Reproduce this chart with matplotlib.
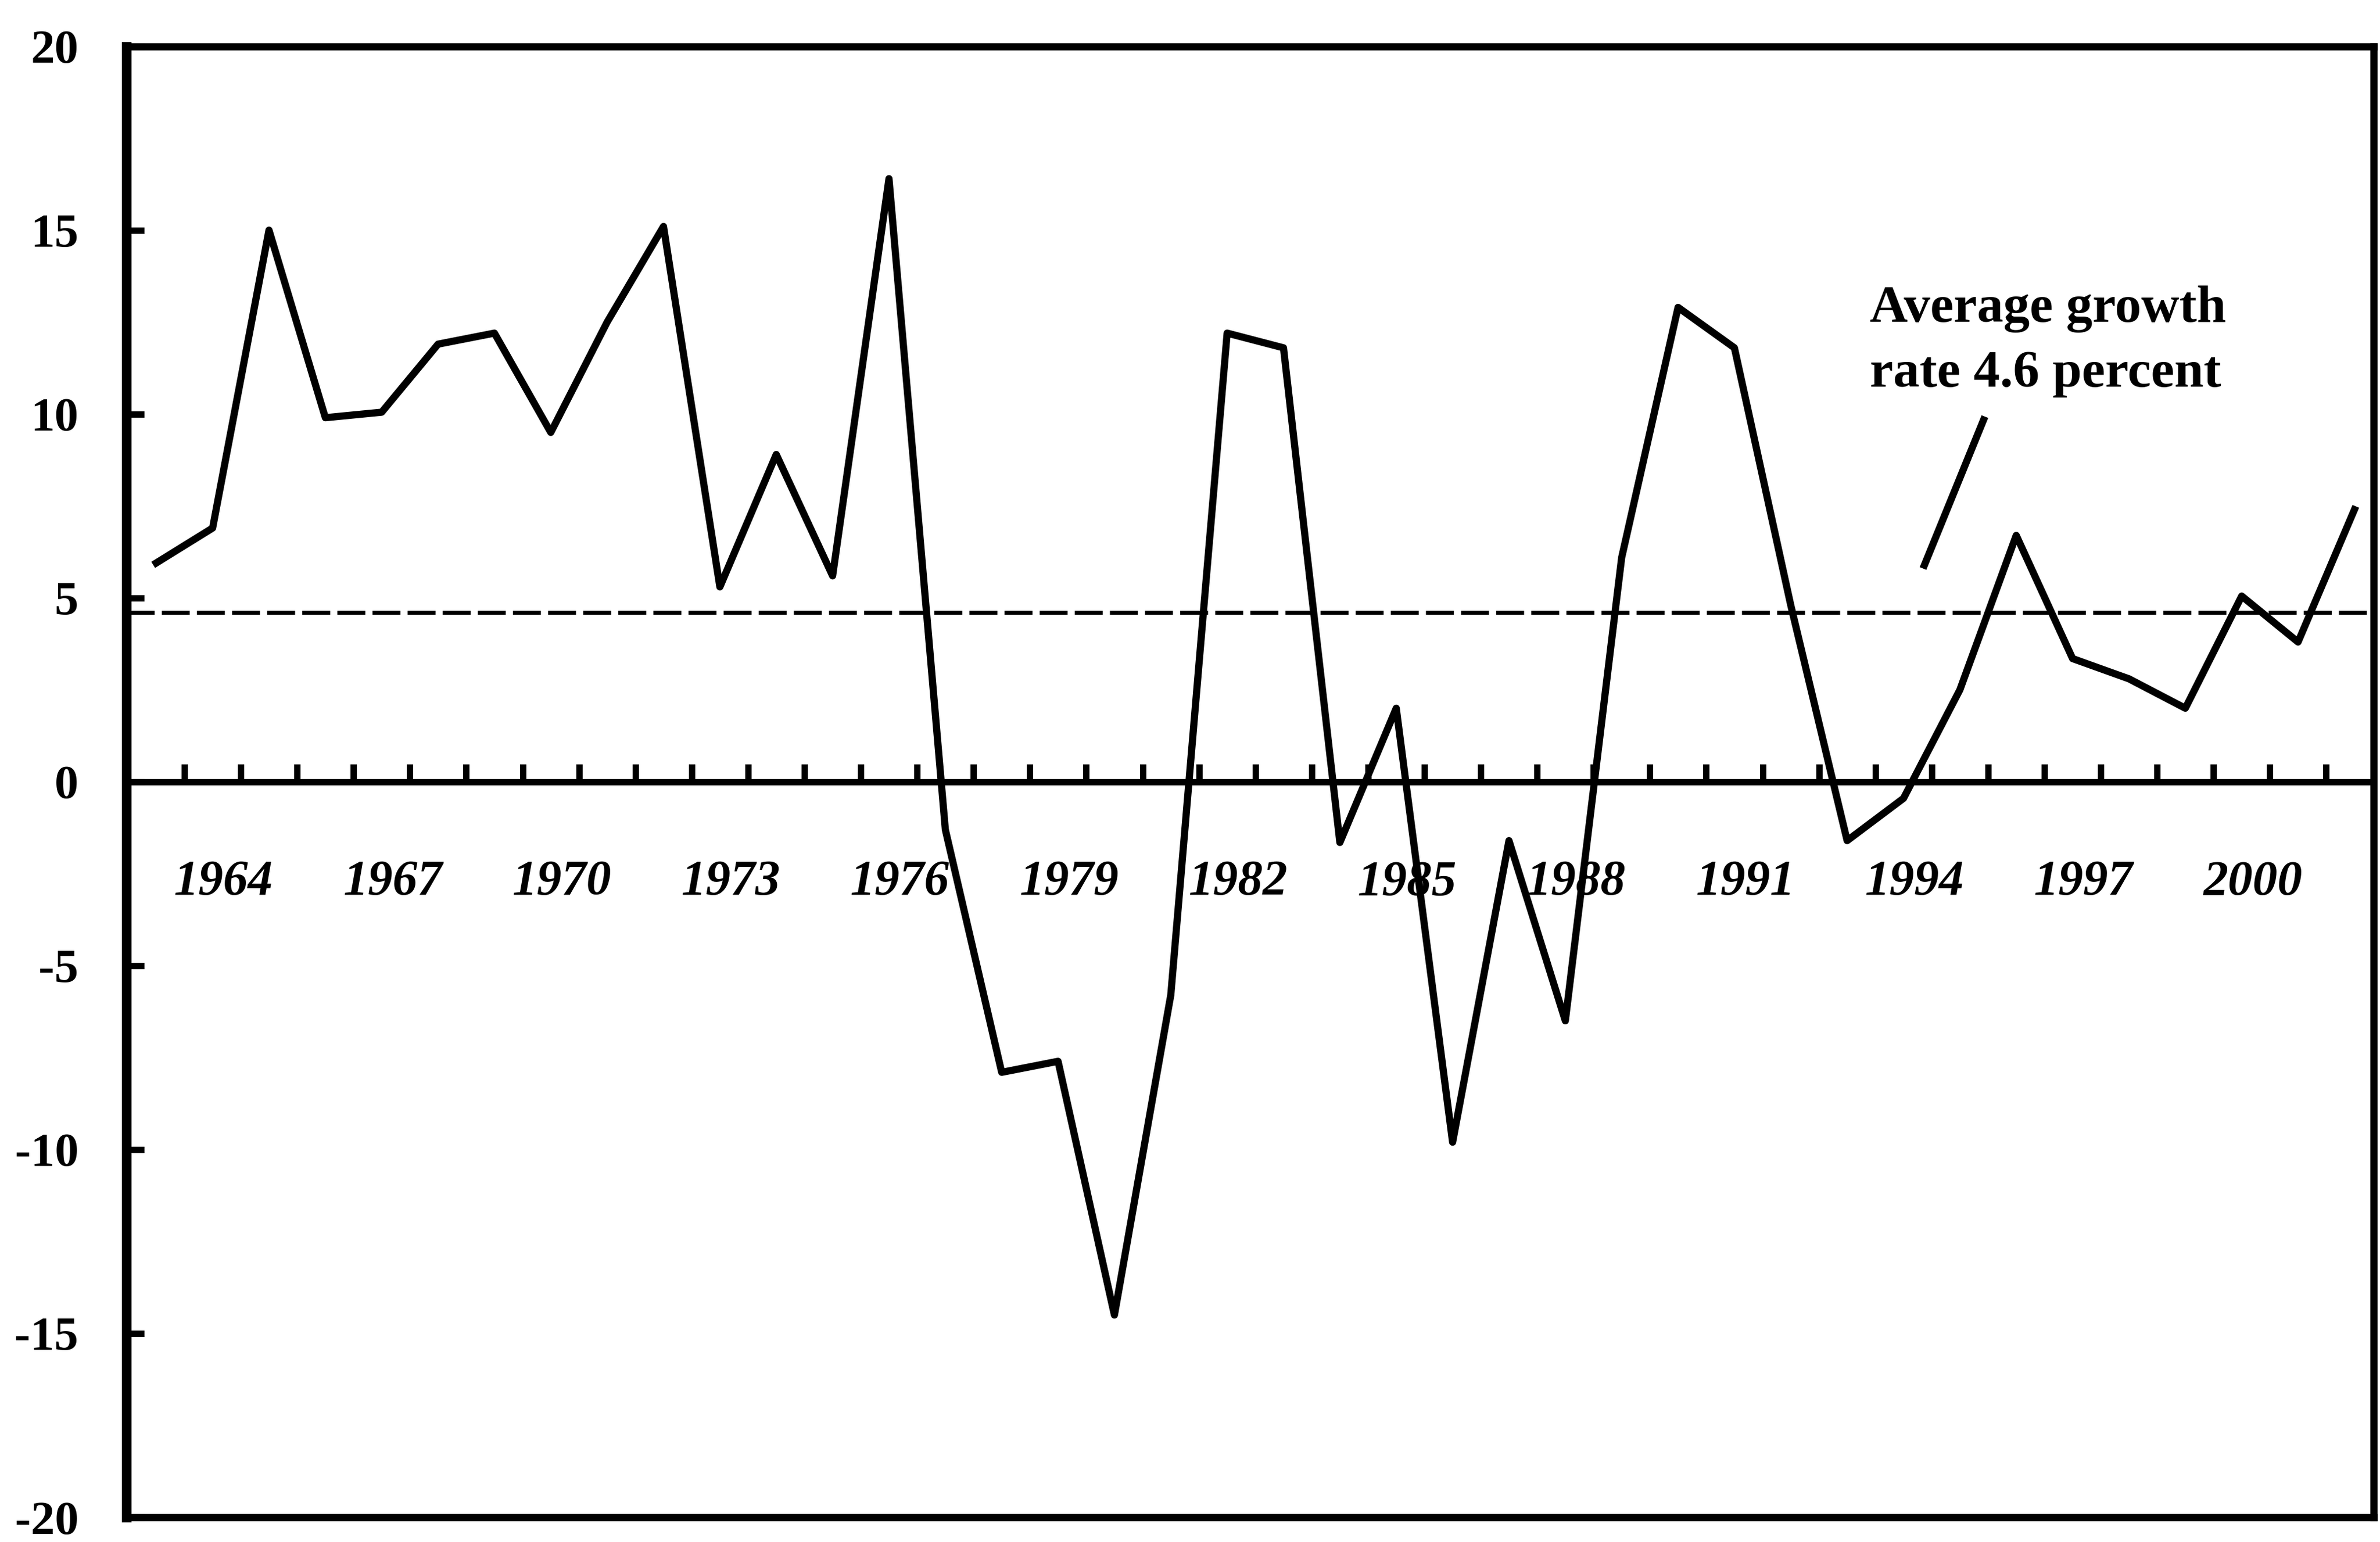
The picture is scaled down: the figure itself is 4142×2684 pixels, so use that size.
import matplotlib.pyplot as plt

# annual growth rate, percent
years = list(range(1963, 2003))
growth = [5.95, 6.9, 15.0, 9.9, 10.05, 11.9, 12.2, 9.5, 12.5, 15.1,
          5.3, 8.9, 5.6, 16.4, -1.3, -7.9, -7.6, -14.5, -5.8, 12.2,
          11.8, -1.65, 2.0, -9.8, -1.6, -6.5, 6.1, 12.9, 11.8, 4.8,
          -1.6, -0.45, 2.5, 6.7, 3.35, 2.8, 2.0, 5.05, 3.8, 7.4]
avg_growth = 4.6
year_labels = [1964, 1967, 1970, 1973, 1976, 1979, 1982, 1985, 1988, 1991, 1994, 1997, 2000]
yticks = [-20, -15, -10, -5, 0, 5, 10, 15, 20]
tick_years = [y + 0.5 for y in years[:-1]]

fig = plt.figure(figsize=(20.71, 13.42), dpi=200)
ax = fig.add_axes([0.0531, 0.016, 0.9442, 0.954])

ax.plot(years, growth, color="black", linewidth=4.5, solid_joinstyle="round")
ax.axhline(avg_growth, color="black", linewidth=2.5, linestyle=(0, (7, 1.8)))
ax.axhline(0, color="black", linewidth=4)
# little upward ticks sitting on the zero line
ax.plot(tick_years, [0] * len(tick_years), linestyle="none", marker=2,
        markersize=11, markeredgewidth=4, color="black")

for yl in year_labels:
    ax.annotate(str(yl), (yl, -2.75), xytext=(7, 0), textcoords="offset points",
                ha="center", va="center", fontsize=31, fontweight="bold",
                fontstyle="italic", family="Liberation Serif")

ax.text(1993.4, 13.5, "Average growth\nrate 4.6 percent", ha="left", va="top",
        fontsize=33, fontweight="bold", family="Liberation Serif", linespacing=1.5)
ax.plot([1995.42, 1994.37], [9.84, 5.89], color="black", linewidth=4.5)

ax.set_xlim(1962.47, 2002.34)
ax.set_ylim(-20, 20)
ax.set_xticks([])
ax.set_yticks(yticks)
ax.set_yticklabels([str(v) for v in yticks], fontsize=30, fontweight="bold",
                   family="Liberation Serif")
ax.tick_params(axis="y", direction="in", length=11, width=4, pad=30)
for side in ["top", "right", "bottom"]:
    ax.spines[side].set_linewidth(4.5)
ax.spines["left"].set_linewidth(6)

fig.savefig("out.png", dpi=200)
